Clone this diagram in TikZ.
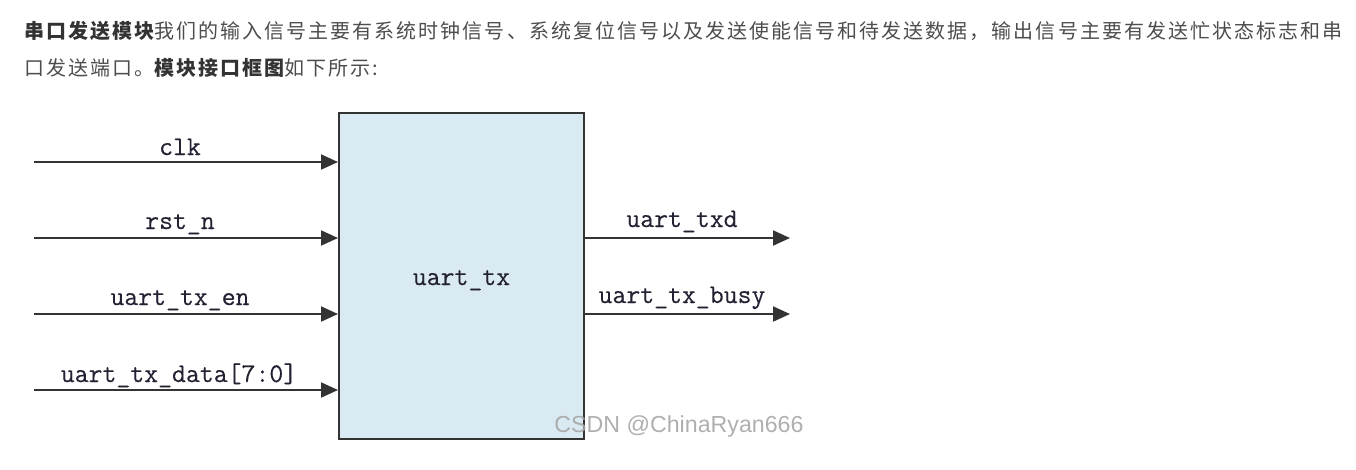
\documentclass[tikz,border=0pt]{standalone}
\usepackage{fontspec}
\usetikzlibrary{arrows.meta}
\newfontfamily\cjk[LetterSpace=10.2]{Noto Sans CJK SC}
\newfontfamily\lblfont[FakeBold=0.3]{Latin Modern Mono}
\newfontfamily\wmfont{Liberation Sans}
\definecolor{bodytext}{HTML}{4D4D4D}
\definecolor{boldtext}{HTML}{333333}
\definecolor{boxfill}{HTML}{DAEAF2}
\definecolor{linecol}{HTML}{333333}
\definecolor{lblcol}{HTML}{222233}
\begin{document}
\begin{tikzpicture}[x=1pt,y=-1pt,
  para/.style={anchor=base west,inner sep=0pt,text=bodytext,font=\cjk\fontsize{20}{24}\selectfont},
  sig/.style={line width=2pt,draw=linecol,-{Triangle[length=17pt,width=15pt]}},
  lbl/.style={anchor=base,inner sep=0pt,text=lblcol,font=\lblfont\fontsize{27}{30}\selectfont},
  blockbox/.style={draw=linecol,line width=2pt,fill=boxfill,minimum width=245pt,minimum height=326pt,inner sep=0pt}
]
\useasboundingbox (0,0) rectangle (1356,469);
\node[para] (p1) at (24,38) {\textcolor{boldtext}{\bfseries 串口发送模块}我们的输入信号主要有系统时钟信号、系统复位信号以及发送使能信号和待发送数据，输出信号主要有发送忙状态标志和串};
\node[para] (p2) at (24,75) {口发送端口。\textcolor{boldtext}{\bfseries 模块接口框图}如下所示:};

\node[blockbox] (tx) at (461.5,276) {};
\node[lbl] (txl) at (461.5,285) {uart\_tx};

\coordinate (i1) at (34,162);
\coordinate (i2) at (34,238);
\coordinate (i3) at (34,314);
\coordinate (i4) at (34,390);
\draw[sig] (i1) -- (i1 -| tx.west);
\draw[sig] (i2) -- (i2 -| tx.west);
\draw[sig] (i3) -- (i3 -| tx.west);
\draw[sig] (i4) -- (i4 -| tx.west);
\node[lbl] (l1) at (180,155) {clk};
\node[lbl] (l2) at (180,229) {rst\_n};
\node[lbl] (l3) at (180,305) {uart\_tx\_en};
\node[lbl] (l4) at (179,382) {uart\_tx\_data[7:0]};

\coordinate (o1) at (790,238);
\coordinate (o2) at (790,314);
\draw[sig] (o1 -| tx.east) -- (o1);
\draw[sig] (o2 -| tx.east) -- (o2);
\node[lbl] (l5) at (682,227) {uart\_txd};
\node[lbl] (l6) at (682,303) {uart\_tx\_busy};

\node[anchor=center,inner sep=0pt,text=gray!70,opacity=0.9,font=\wmfont\fontsize{23.2}{25}\selectfont] (wm) at (679,426) {CSDN @ChinaRyan666};
\end{tikzpicture}
\end{document}
